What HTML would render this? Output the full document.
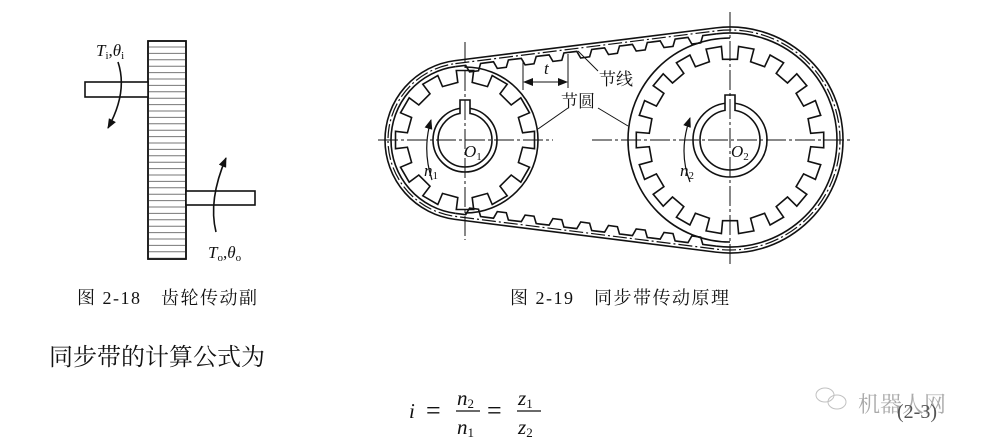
<!DOCTYPE html>
<html><head><meta charset="utf-8">
<style>
html,body{margin:0;padding:0;background:#fff;}
svg{display:block}
text{font-family:"Liberation Serif","Noto Serif CJK SC",serif;fill:#111}
.cn{font-family:"Liberation Serif","Noto Serif CJK SC","Noto Sans CJK SC",serif}
</style></head>
<body>
<svg id="s" width="986" height="445" viewBox="0 0 986 445" xmlns="http://www.w3.org/2000/svg">
<defs>
<marker id="ah" markerWidth="10" markerHeight="8" refX="9" refY="4" orient="auto" markerUnits="userSpaceOnUse">
<path d="M0,0 L10,4 L0,8 Z" fill="#111"/></marker>
</defs>
<g id="fig1" stroke="#111" fill="none" stroke-width="1.6">
<rect x="148" y="41" width="38" height="218" fill="#fff"/>
<g id="hatch" stroke="#777" stroke-width="1"></g>
<rect x="148" y="41" width="38" height="218"/>
<rect x="85" y="82" width="63" height="15" fill="#fff"/>
<rect x="186" y="191" width="69" height="14" fill="#fff"/>
<path d="M118,62 Q128,92 108,128" marker-end="url(#ah)"/>
<path d="M216,232 Q208,200 226,158" marker-end="url(#ah)"/>
</g>
<text x="96" y="56" font-size="17" font-style="italic">T<tspan font-size="11" dy="3" font-style="normal">i</tspan><tspan dy="-3" font-style="normal">,</tspan>θ<tspan font-size="11" dy="3" font-style="normal">i</tspan></text>
<text x="208" y="258" font-size="17" font-style="italic">T<tspan font-size="11" dy="3" font-style="normal">o</tspan><tspan dy="-3" font-style="normal">,</tspan>θ<tspan font-size="11" dy="3" font-style="normal">o</tspan></text>

<g id="fig2" stroke="#111" fill="none" stroke-width="1.6"></g>
<g font-size="17">
<text x="464" y="157" font-style="italic">O<tspan font-size="11" dy="3" font-style="normal">1</tspan></text>
<text x="424" y="176" font-style="italic">n<tspan font-size="11" dy="3" font-style="normal">1</tspan></text>
<text x="731" y="157" font-style="italic">O<tspan font-size="11" dy="3" font-style="normal">2</tspan></text>
<text x="680" y="176" font-style="italic">n<tspan font-size="11" dy="3" font-style="normal">2</tspan></text>
<text x="544" y="74" font-style="italic">t</text>
<text x="599" y="85" class="cn" font-size="17">节线</text>
<text x="561" y="107" class="cn" font-size="17">节圆</text>
</g>

<text x="77" y="304" class="cn" font-size="18" letter-spacing="1.5">图 2-18　齿轮传动副</text>
<text x="510" y="304" class="cn" font-size="18" letter-spacing="1.5">图 2-19　同步带传动原理</text>
<text x="49" y="365" class="cn" font-size="24">同步带的计算公式为</text>

<g font-size="21">
<text x="409" y="418" font-style="italic">i</text>
<text x="426" y="419" font-family="Liberation Sans" font-size="26">=</text>
<text x="457" y="405" font-style="italic">n<tspan font-size="13" dy="3" font-style="normal">2</tspan></text>
<line x1="456" y1="411" x2="480" y2="411" stroke="#111" stroke-width="1.2"/>
<text x="457" y="434" font-style="italic">n<tspan font-size="13" dy="3" font-style="normal">1</tspan></text>
<text x="487" y="419" font-family="Liberation Sans" font-size="26">=</text>
<text x="518" y="405" font-style="italic">z<tspan font-size="13" dy="3" font-style="normal">1</tspan></text>
<line x1="517" y1="411" x2="541" y2="411" stroke="#111" stroke-width="1.2"/>
<text x="518" y="434" font-style="italic">z<tspan font-size="13" dy="3" font-style="normal">2</tspan></text>
</g>
<g opacity="0.6" stroke="#999" fill="none">
<ellipse cx="825" cy="395" rx="9" ry="7"/><ellipse cx="837" cy="402" rx="9" ry="7"/>
</g>
<text x="858" y="412" class="cn" font-size="22" style="fill:#aaa">机器人网</text>
<text x="897" y="418" font-size="20" style="fill:#555">(2-3)</text>
</svg>
<script>
var NS="http://www.w3.org/2000/svg";
function el(p,t,a){var e=document.createElementNS(NS,t);for(var k in a)e.setAttribute(k,a[k]);p.appendChild(e);return e;}
var h=document.getElementById("hatch");
for(var y=47;y<259;y+=6.4)el(h,"line",{x1:148,y1:y,x2:186,y2:y});
var g=document.getElementById("fig2");
function gear(cx,cy,ro,ri,n){var d="";for(var i=0;i<n;i++){var a0=2*Math.PI*i/n,w=Math.PI/n*0.95;
var pts=[[ri,a0-w/2],[ro,a0-w/2],[ro,a0+w/2],[ri,a0+w/2]];
pts.forEach(function(p,j){var x=cx+p[0]*Math.cos(p[1]),y=cy+p[0]*Math.sin(p[1]);d+=(i==0&&j==0?"M":"L")+x.toFixed(1)+","+y.toFixed(1);});}
el(g,"path",{d:d+"Z"});}
var c1=[465,140],c2=[730,140];
gear(c1[0],c1[1],70,58,12);
gear(c2[0],c2[1],94,81,18);
el(g,"path",{d:"M465,67 A73,73 0 0 1 465,213"});
el(g,"path",{d:"M730,38 A102,102 0 0 0 730,242"});
[[c1,32,27],[c2,37,30]].forEach(function(h){el(g,"circle",{cx:h[0][0],cy:h[0][1],r:h[1]});el(g,"circle",{cx:h[0][0],cy:h[0][1],r:h[2]});
el(g,"path",{d:"M"+(h[0][0]-5)+","+(h[0][1]-h[2]+1)+"V"+(h[0][1]-h[1]-8)+"H"+(h[0][0]+5)+"V"+(h[0][1]-h[2]+1),fill:"#fff"});});
function tang(r1,r2){var d=c2[0]-c1[0],nx=-(r2-r1)/d,ny=Math.sqrt(1-nx*nx);
return {t1:[c1[0]+r1*nx,c1[1]-r1*ny],t2:[c2[0]+r2*nx,c2[1]-r2*ny],b1:[c1[0]+r1*nx,c1[1]+r1*ny],b2:[c2[0]+r2*nx,c2[1]+r2*ny]};}
function belt(r1,r2,attrs,arcsOnly){var T=tang(r1,r2);
var p=arcsOnly?("M"+T.t2+"A"+r2+","+r2+" 0 1 1 "+T.b2+"M"+T.b1+"A"+r1+","+r1+" 0 0 1 "+T.t1):
("M"+T.t1+"L"+T.t2+"A"+r2+","+r2+" 0 1 1 "+T.b2+"L"+T.b1+"A"+r1+","+r1+" 0 0 1 "+T.t1+"Z");
var a={d:p};for(var k in attrs)a[k]=attrs[k];el(g,"path",a);return T;}
belt(80,113,{});
var Ti=belt(74,107,{},true);
belt(77,110,{"stroke-dasharray":"14,3,2,3","stroke-width":1.2});
function teeth(p,q,off){var dx=q[0]-p[0],dy=q[1]-p[1],L=Math.hypot(dx,dy),ux=dx/L,uy=dy/L,nx=-uy,ny=ux;
var d="",step=28,s=0,first=true;while(s<L){var seg=[[s,0],[s+10,0],[s+13,off],[s+22,off],[s+25,0],[Math.min(s+step,L),0]];
seg.forEach(function(k){if(k[0]>L)return;var x=p[0]+ux*k[0]+nx*k[1],y=p[1]+uy*k[0]+ny*k[1];d+=(first?"M":"L")+x.toFixed(1)+","+y.toFixed(1);first=false;});s+=step;}
el(g,"path",{d:d});}
teeth(Ti.t1,Ti.t2,7);
teeth(Ti.b1,Ti.b2,-7);
el(g,"line",{x1:378,y1:140,x2:553,y2:140,"stroke-dasharray":"20,3,3,3","stroke-width":1});
el(g,"line",{x1:592,y1:140,x2:850,y2:140,"stroke-dasharray":"20,3,3,3","stroke-width":1});
el(g,"line",{x1:465,y1:42,x2:465,y2:240,"stroke-dasharray":"20,3,3,3","stroke-width":1});
el(g,"line",{x1:730,y1:12,x2:730,y2:265,"stroke-dasharray":"20,3,3,3","stroke-width":1});
el(g,"line",{x1:523,y1:60,x2:523,y2:90,"stroke-width":1});
el(g,"line",{x1:568,y1:54,x2:568,y2:88,"stroke-width":1});
el(g,"line",{x1:545,y1:82,x2:567,y2:82,"stroke-width":1,"marker-end":"url(#ah)"});
el(g,"line",{x1:545,y1:82,x2:524,y2:82,"stroke-width":1,"marker-end":"url(#ah)"});
el(g,"line",{x1:578,y1:51,x2:598,y2:71,"stroke-width":1});
el(g,"line",{x1:568,y1:108,x2:538,y2:129,"stroke-width":1});
el(g,"line",{x1:598,y1:108,x2:628,y2:126,"stroke-width":1});
el(g,"path",{d:"M432,180 Q422,150 431,120","marker-end":"url(#ah)","stroke-width":1.2});
el(g,"path",{d:"M690,182 Q678,152 690,118","marker-end":"url(#ah)","stroke-width":1.2});
</script>
</body></html>
